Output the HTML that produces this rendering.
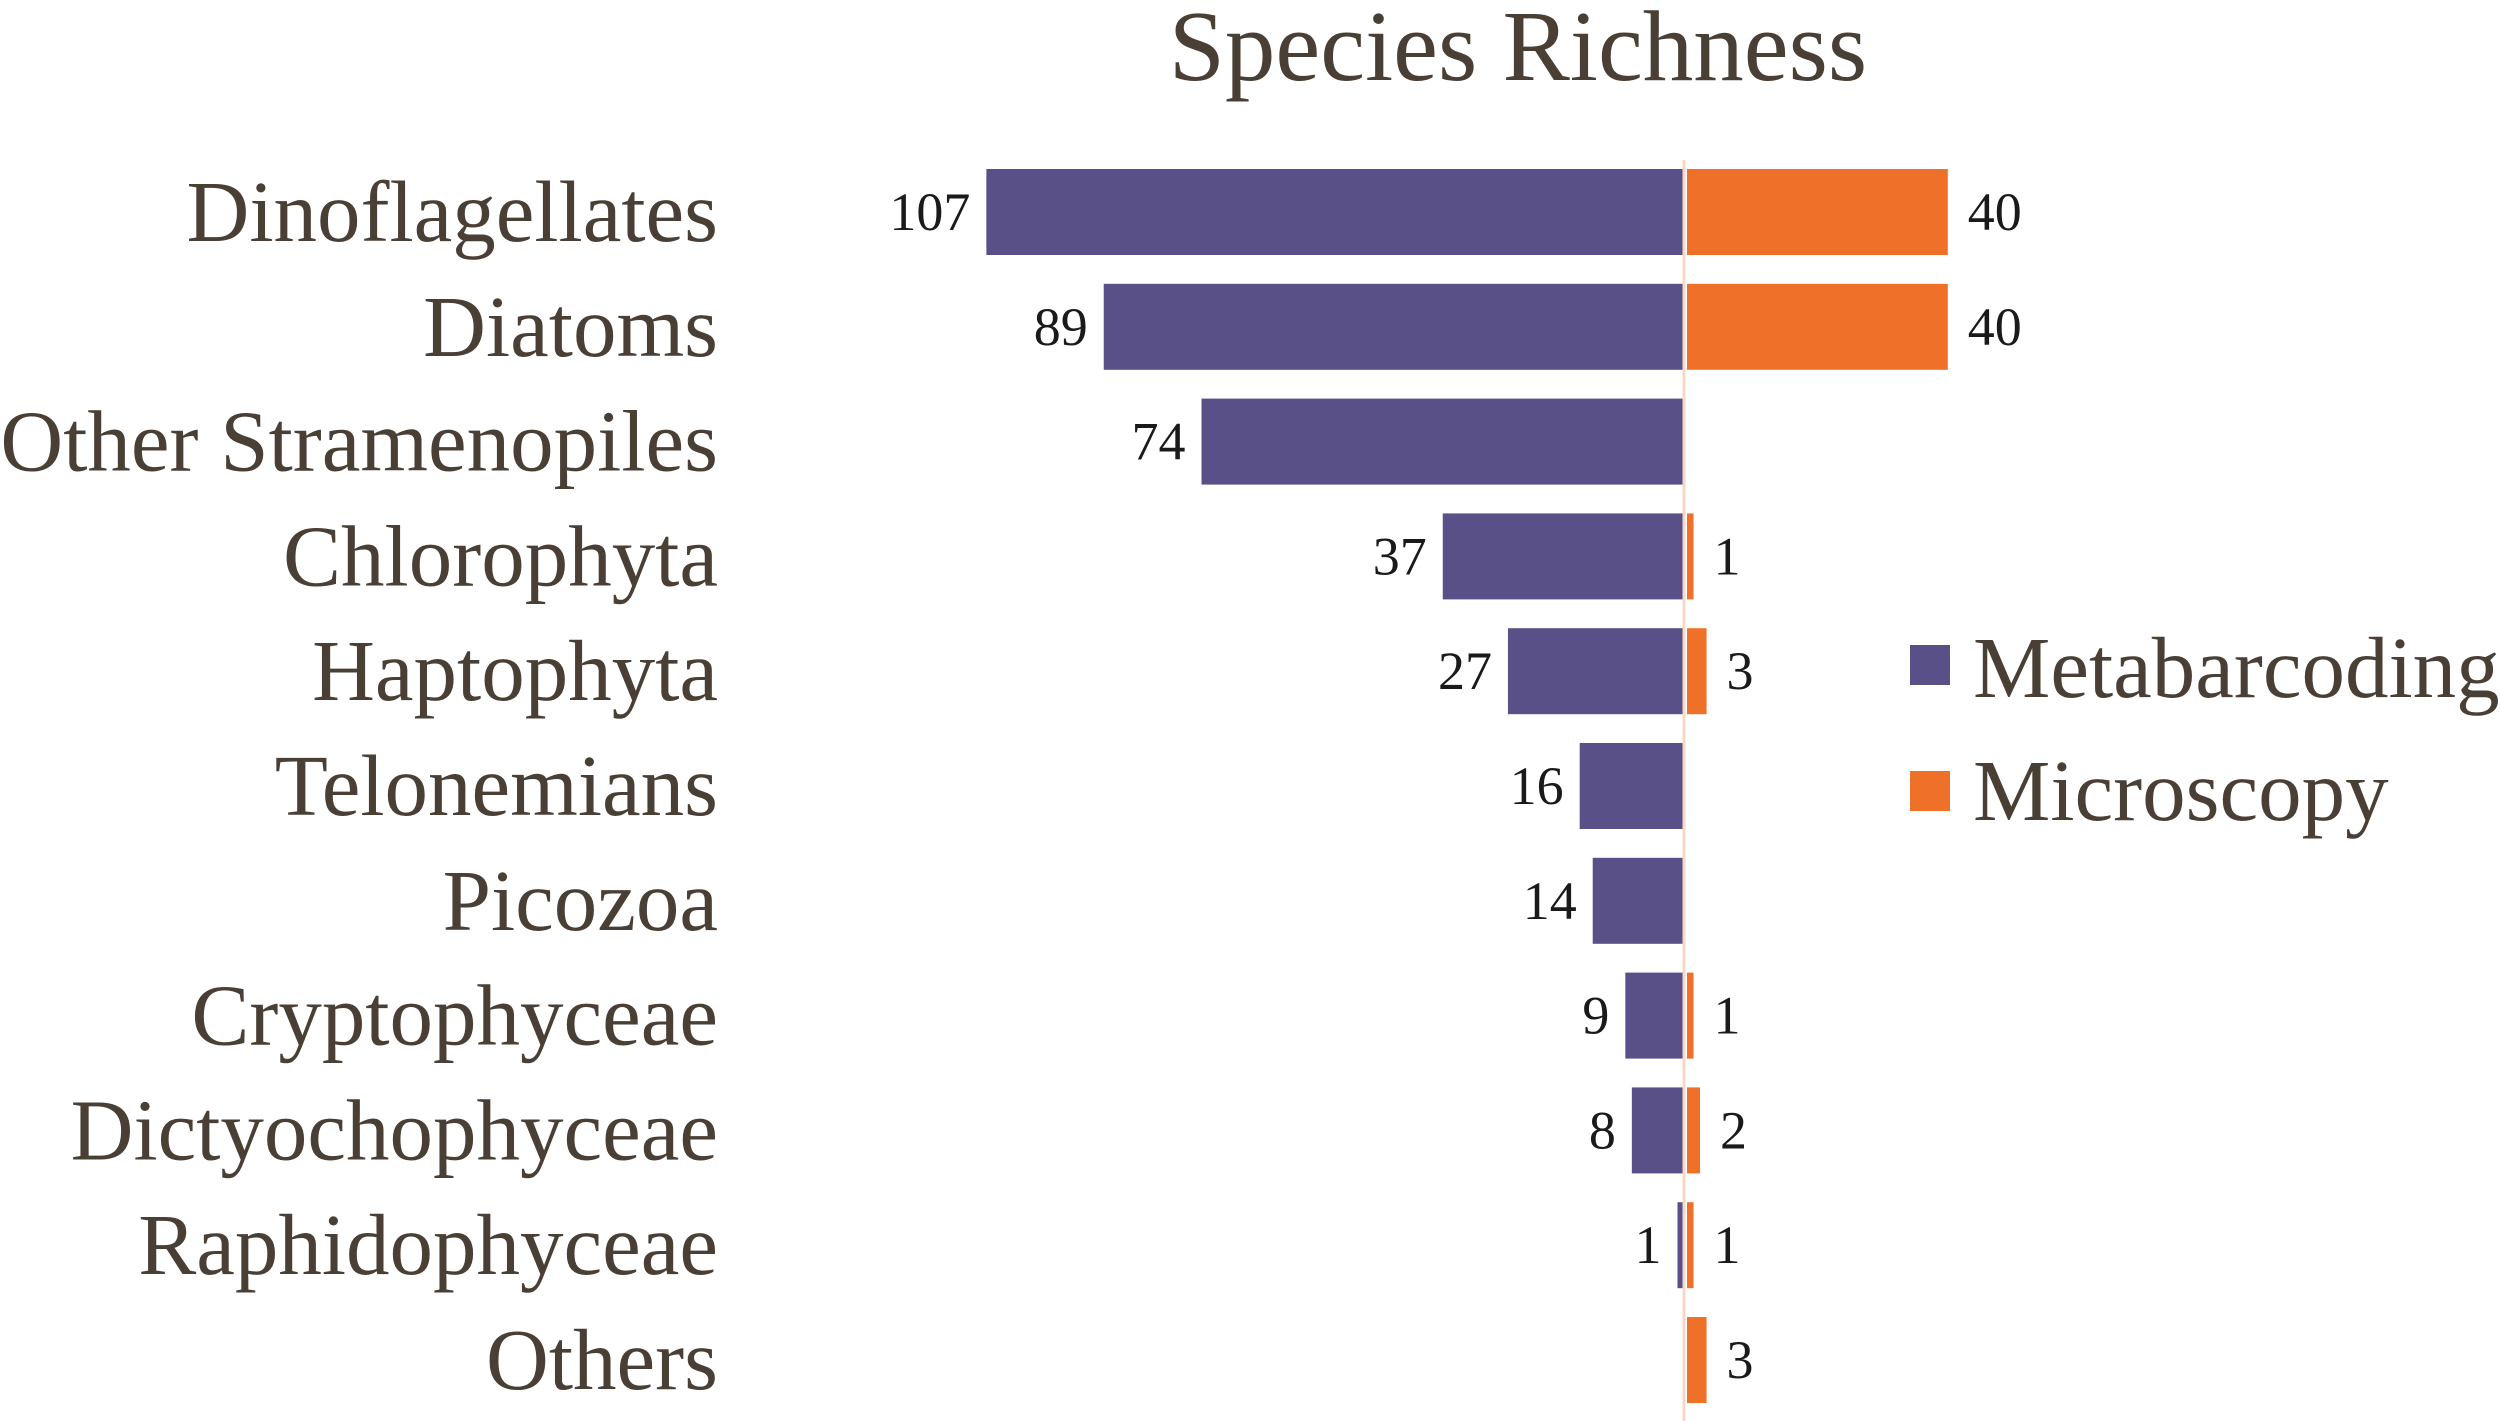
<!DOCTYPE html>
<html><head><meta charset="utf-8"><style>
html,body{margin:0;padding:0;background:#fff;}
svg{display:block;font-family:"Liberation Serif",serif;}
</style></head><body>
<svg id="chart" width="2500" height="1421" viewBox="0 0 2500 1421" xmlns="http://www.w3.org/2000/svg">
<text x="1518" y="80" font-size="101" fill="#4a3f35" text-anchor="middle">Species Richness</text>
<g id="bars"></g>
<line x1="1684" y1="160" x2="1684" y2="1421" stroke="#f5d9c7" stroke-width="3"/>
<g>
<rect x="1910" y="645" width="40" height="40" fill="#5a5088"/>
<text x="1973" y="697" font-size="87" fill="#4a3f35">Metabarcoding</text>
<rect x="1910" y="771" width="40" height="40" fill="#ee7029"/>
<text x="1973" y="820" font-size="87" fill="#4a3f35">Microscopy</text>
</g>
</svg>
<script>
const categories = ["Dinoflagellates","Diatoms","Other Stramenopiles","Chlorophyta","Haptophyta","Telonemians","Picozoa","Cryptophyceae","Dictyochophyceae","Raphidophyceae","Others"];
const metabarcoding = [107,89,74,37,27,16,14,9,8,1,0];
const microscopy = [40,40,0,1,3,0,0,1,2,1,3];

const cx = 1684, unit = 6.52, y0 = 212, step = 114.8, bh = 86;
const ns = "http://www.w3.org/2000/svg";
const g = document.getElementById('bars');
function xL(v){ return cx - v*unit; }
function xR(v){ return cx + 3 + v*unit; }
function yC(i){ return y0 + i*step; }
function mk(tag, attrs){ const e=document.createElementNS(ns,tag); for(const k in attrs) e.setAttribute(k,attrs[k]); g.appendChild(e); return e; }
categories.forEach((c,i)=>{
  const y = yC(i);
  const lab = mk('text',{x:718,y:y+29,'font-size':87,fill:'#4a3f35','text-anchor':'end'});
  lab.textContent = c;
  
  
  const m = metabarcoding[i];
  if (m > 0) {
    const r = mk('rect',{x:xL(m),y:y-bh/2,width:m*unit,height:bh,fill:'#5a5088'});
    
    
    const t = mk('text',{x:xL(m)-16,y:y+18,'font-size':54,fill:'#1a1a1a','text-anchor':'end'});
    t.textContent = m;
    
    
  }
  const o = microscopy[i];
  if (o > 0) {
    const r = mk('rect',{x:cx+3,y:y-bh/2,width:o*unit,height:bh,fill:'#ee7029'});
    
    
    const t = mk('text',{x:xR(o)+20,y:y+18,'font-size':54,fill:'#1a1a1a','text-anchor':'start'});
    t.textContent = o;
    
    
  }
});
</script>
</body></html>
